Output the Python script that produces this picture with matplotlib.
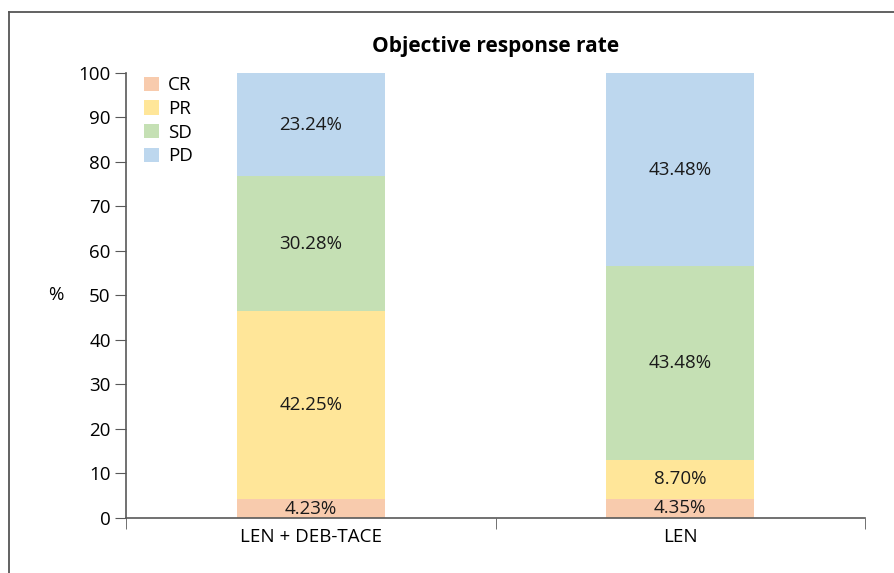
import matplotlib.pyplot as plt
from matplotlib.lines import Line2D
from matplotlib.patches import Patch
import numpy as np

plt.rcParams['font.family'] = ['Open Sans', 'DejaVu Sans']

groups = ["LEN + DEB-TACE", "LEN"]
responses = ["CR", "PR", "SD", "PD"]
cr = [4.23, 4.35]
pr = [42.25, 8.70]
sd = [30.28, 43.48]
pd_ = [23.24, 43.48]
colors = ["#F8CBAD", "#FFE699", "#C5E0B4", "#BDD7EE"]

fs = 13.5

fig = plt.figure(figsize=(8.95, 5.73), dpi=100)
ax = fig.add_axes([0.1408, 0.096, 0.8257, 0.7766])

x = np.arange(len(groups))
bottom = np.zeros(len(groups))
for name, vals, col in zip(responses, [cr, pr, sd, pd_], colors):
    vals = np.array(vals)
    ax.bar(x, vals, width=0.4, bottom=bottom, color=col, label=name)
    for xi, b, v in zip(x, bottom, vals):
        ax.text(xi, b + v / 2, f"{v:.2f}%", ha="center", va="center",
                fontsize=fs, color="#1a1a1a")
    bottom = bottom + vals

axis_col = "#595959"
ax.set_xlim(-0.5, 1.5)
ax.set_ylim(0, 100)
ax.set_yticks(np.arange(0, 101, 10))
ax.set_xticks(x)
ax.set_xticklabels(groups)
ax.set_xticks([-0.5, 0.5, 1.5], minor=True)
ax.tick_params(axis="x", which="major", length=0, pad=7, labelsize=fs)
ax.tick_params(axis="x", which="minor", length=8, direction="out", color=axis_col)
ax.tick_params(axis="y", length=8, direction="out", color=axis_col, labelsize=fs, pad=3)
for s in ["top", "right"]:
    ax.spines[s].set_visible(False)
for s in ["left", "bottom"]:
    ax.spines[s].set_color(axis_col)
    ax.spines[s].set_linewidth(1.2)

ax.set_ylabel("%", rotation=0, fontsize=fs, labelpad=0, va="center")
ax.yaxis.set_label_coords(-0.095, 0.5)
ax.set_title("Objective response rate", fontsize=15, fontweight="bold", pad=15)

handles = [Patch(facecolor=c, edgecolor="none") for c in colors]
ax.legend(handles, responses, loc="upper left", bbox_to_anchor=(0.014, 1.009),
          frameon=False, fontsize=fs, handlelength=0.8, handleheight=0.8,
          handletextpad=0.5, labelspacing=0.3, borderaxespad=0)

# outer frame, left and top edges only
fig.add_artist(Line2D([0.01, 0.01], [0, 0.979], color="#555555", lw=1.3))
fig.add_artist(Line2D([0.01, 1.0], [0.979, 0.979], color="#555555", lw=1.3))

fig.savefig("out.png", dpi=100)
